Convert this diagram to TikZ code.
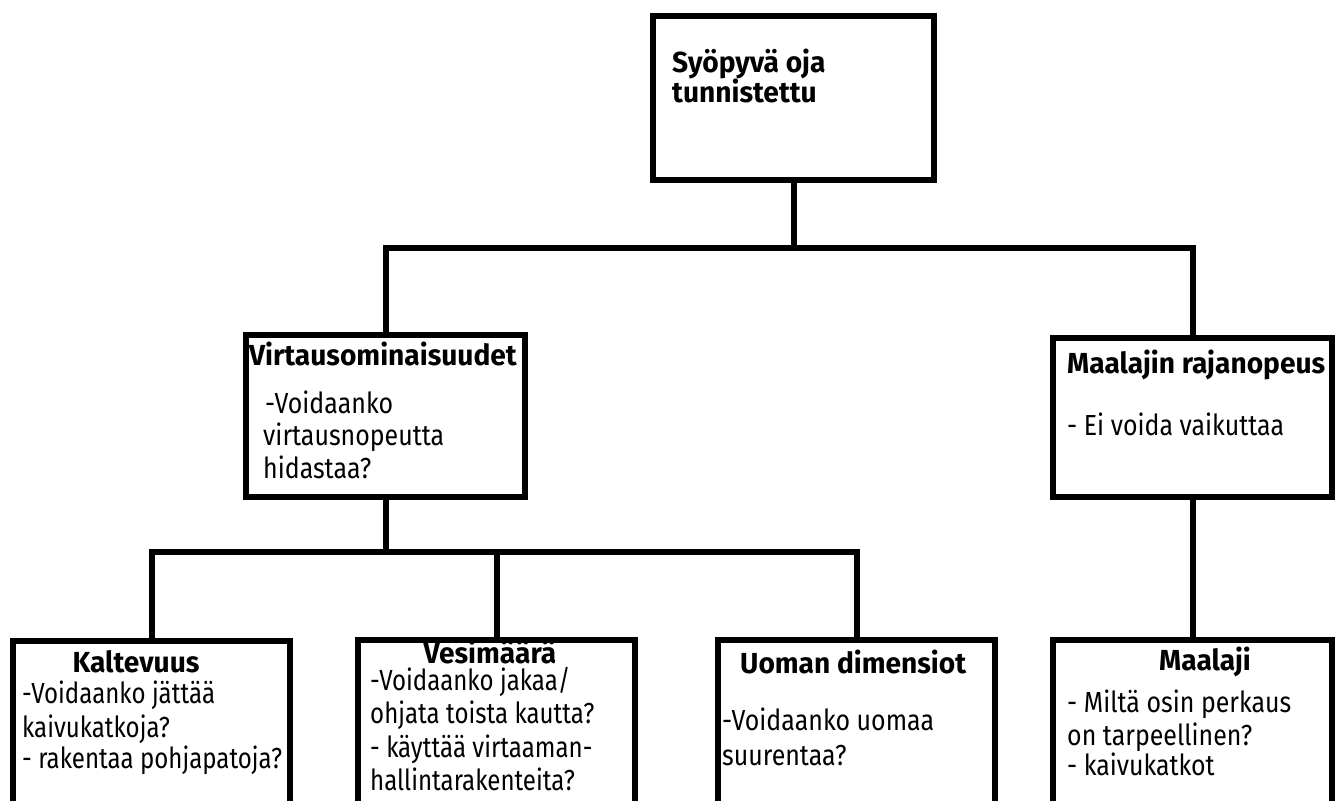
\documentclass[tikz,border=0pt]{standalone}
\usepackage{fontspec}
\setmainfont{Fira Sans}[FakeStretch=0.83, BoldFeatures={FakeStretch=0.97}]
\newfontfamily\widerfont{Fira Sans}[FakeStretch=0.86]
\begin{document}
\begin{tikzpicture}[x=1pt,y=-1pt,
  box/.style={draw=black, line width=6pt, fill=white, rectangle, inner sep=0pt},
  conn/.style={draw=black, line width=6pt},
  txt/.style={inner sep=0pt, anchor=base west, font=\fontsize{29}{33}\selectfont, text=black},
  wtxt/.style={txt, font=\fontsize{29}{33}\selectfont\widerfont},
  ttl/.style={txt, font=\fontsize{29}{33}\selectfont\bfseries},
  ttlc/.style={ttl, anchor=base}]
\useasboundingbox (0,0) rectangle (1337,800);
\fill[white] (0,0) rectangle (1337,800);
\clip (0,0) rectangle (1337,800);

% boxes
\node[box, minimum width=281pt, minimum height=164pt] (top) at (793.5,98) {};
\node[box, minimum width=279pt, minimum height=162pt] (virt) at (385.5,416) {};
\node[box, minimum width=279pt, minimum height=159pt] (raja) at (1192.5,417.5) {};
\node[box, minimum width=277pt, minimum height=200pt] (kalt) at (151.5,741) {};
\node[box, minimum width=277pt, minimum height=200pt] (vesi) at (496.5,740) {};
\node[box, minimum width=277pt, minimum height=200pt] (uoma) at (856.5,740) {};
\node[box, minimum width=279pt, minimum height=200pt] (maal) at (1192.5,740) {};

% connectors
\coordinate (j1) at (top.south |- 0,248);
\coordinate (j2) at (virt.south |- 0,552);
\draw[conn] (top.south) -- (j1);
\draw[conn] (virt.north) |- (j1) -| (raja.north);
\draw[conn] (virt.south) -- (j2);
\draw[conn] (kalt.north) |- (j2) -| (uoma.north);
\draw[conn] (vesi.north) -- (vesi.north |- j2);
\draw[conn] (raja.south) -- (maal.north);

% texts
\node[ttl] (t0a) at (672,72) {Syöpyvä oja};
\node[ttl] (t0b) at (672,102) {tunnistettu};

\node[ttl] (t1a) at (249,365) {Virtausominaisuudet};
\node[wtxt] (t1b) at (265,413) {-Voidaanko};
\node[wtxt] (t1c) at (263,445) {virtausnopeutta};
\node[wtxt] (t1d) at (263,478) {hidastaa?};

\node[ttl] (t2a) at (1067,373) {Maalajin rajanopeus};
\node[wtxt] (t2b) at (1067,435) {- Ei voida vaikuttaa};

\node[ttlc] (t3a) at (136,672) {Kaltevuus};
\node[txt] (t3b) at (22,703) {-Voidaanko jättää};
\node[txt] (t3c) at (22,737) {kaivukatkoja?};
\node[txt] (t3d) at (22,768) {- rakentaa pohjapatoja?};

\node[ttlc] (t4a) at (490,663) {Vesimäärä};
\node[txt] (t4b) at (370,690) {-Voidaanko jakaa/};
\node[txt] (t4c) at (370,723) {ohjata toista kautta?};
\node[txt] (t4d) at (370,757) {- käyttää virtaaman-};
\node[txt] (t4e) at (370,790) {hallintarakenteita?};

\node[ttl] (t5a) at (740,673) {Uoman dimensiot};
\node[wtxt] (t5b) at (722,730) {-Voidaanko uomaa};
\node[wtxt] (t5c) at (722,765) {suurentaa?};

\node[ttlc] (t6a) at (1205,670) {Maalaji};
\node[wtxt] (t6b) at (1067,712) {- Miltä osin perkaus};
\node[wtxt] (t6c) at (1067,745) {on tarpeellinen?};
\node[wtxt] (t6d) at (1067,775) {- kaivukatkot};
\end{tikzpicture}
\end{document}
